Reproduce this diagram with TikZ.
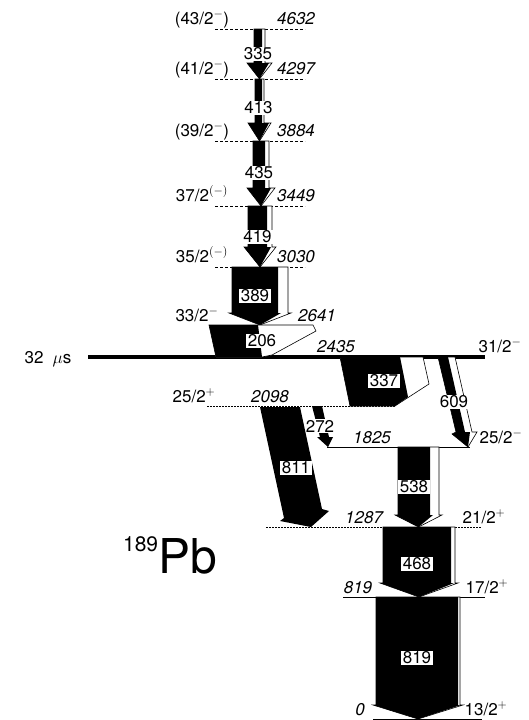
\documentclass[tikz,border=0pt]{standalone}
\usepackage{fontspec}
\setmainfont{TeX Gyre Heros}
\usetikzlibrary{calc}

\begin{document}
\begin{tikzpicture}[x=1pt, y=-1pt, font=\fontsize{17}{17}\selectfont,
  level/.style={line width=0.8pt},
  lvldash/.style={level, dash pattern=on 3pt off 2pt},
  lvldot/.style={level, dash pattern=on 1.5pt off 1.5pt},
  glab/.style={fill=white, inner xsep=2pt, inner ysep=1pt},
  elab/.style={anchor=base, font=\fontsize{17}{17}\selectfont\itshape},
  jlab/.style={anchor=base},
  outl/.style={line width=0.6pt, fill=white}]
  \useasboundingbox (0,0) rectangle (528,720);

  % upper cascade levels
  \foreach \y/\E/\J in {29/4632/{(43/2$^-$)}, 79/4297/{(41/2$^-$)},
      141/3884/{(39/2$^-$)}, 206/3449/{37/2$^{(-)}$}, 267/3030/{35/2$^{(-)}$}} {
    \draw[lvldash] (215,\y) -- (305,\y);
    \node[jlab] (J\E) at (202,\y-5) {\J};
    \node[elab] (E\E) at (296,\y-5) {\E};
  }

  % lower levels
  \draw[lvldash] (210,325) -- (313,325);
  \draw[line width=3.5pt] (88,357) -- (485,357);
  \draw[lvldot] (207,406) -- (395,406);
  \draw[level] (327,447) -- (470,447);
  \draw[lvldot] (266,527) -- (482,527);
  \draw[level] (343,597) -- (485,597);
  \draw[level] (373,719) -- (482,719);

  % vertical gamma bands: left / black edge / right / top / bottom / head / overhang
  \foreach \xl/\xb/\xr/\yt/\yb/\hl/\ov/\E/\ly in {
      254/262/265/29/79/16/7/335/54, 255/262/264/79/141/18/7/413/108,
      253/265/269/141/206/18/6/435/173, 248/267/272/206/267/20/4/419/237,
      232/278/288/267/325/12/3/389/296, 398/430/439/447/527/12/3/538/487,
      383/451/455/527/597/14/3/468/564, 376/458/460/597/719/14/3/819/658} {
    \draw[outl] (\xl,\yt) -- (\xr,\yt) -- (\xr,\yb-\hl) -- (\xr+\ov,\yb-\hl)
      -- ({(\xl+\xr)/2},\yb) -- (\xl-\ov,\yb-\hl) -- (\xl,\yb-\hl) -- cycle;
    \fill (\xl,\yt) -- (\xb,\yt) -- (\xb,\yb-\hl) -- (\xb+\ov,\yb-\hl)
      -- ({(\xl+\xr)/2},\yb) -- (\xl-\ov,\yb-\hl) -- (\xl,\yb-\hl) -- cycle;
    \node[glab] (g\E) at ({(\xl+\xb)/2},\ly) {\E};
  }

  % 206
  \draw[outl] (209,325) -- (313,325) -- (316,331) -- (272,355) -- (262,357)
    -- (216,357) -- cycle;
  \fill (209,325) -- (258,325) -- (262,357) -- (216,357) -- cycle;
  \node[glab] (g206) at (262,341) {206};
  % 337
  \draw[outl] (340,357) -- (423,357) -- (429,384) -- (395,406) -- (350,406) -- cycle;
  \fill (340,357) -- (400,357) -- (408,397) -- (395,406) -- (350,406) -- cycle;
  \node[glab] (g337) at (384,381) {337};
  % 609
  \draw[outl] (438,357) -- (455,357) -- (472,432) -- (477,432) -- (468,447)
    -- (452,434) -- (456,432) -- cycle;
  \fill (438,357) -- (448,357) -- (465,432) -- (470,432) -- (468,447)
    -- (452,434) -- (456,432) -- cycle;
  \node[glab] (g609) at (454,402) {609};
  % 272
  \fill (312,406) -- (322,406) -- (329,437) -- (333,437) -- (328,447)
    -- (317,437) -- (320,437) -- cycle;
  \node[glab] (g272) at (320,426) {272};
  % 811
  \fill (260,407) -- (300,407) -- (322,509) -- (329,511) -- (311,527)
    -- (280,521) -- (284,518) -- cycle;
  \node[glab] (g811) at (296,468) {811};

  % level labels
  \node[jlab] (J2641) at (197,321) {33/2$^-$};
  \node[elab] (E2641) at (317,321) {2641};
  \node[anchor=base] (tau) at (48,363) {32\hspace{9pt}$\mu$s};
  \node[elab] (E2435) at (336,352) {2435};
  \node[jlab] (J2435) at (500,352) {31/2$^-$};
  \node[jlab] (J2098) at (194,402) {25/2$^+$};
  \node[elab] (E2098) at (270,402) {2098};
  \node[elab] (E1825) at (372,443) {1825};
  \node[jlab] (J1825) at (501,443) {25/2$^-$};
  \node[elab] (E1287) at (364,523) {1287};
  \node[jlab] (J1287) at (484,523) {21/2$^+$};
  \node[elab] (E819) at (358,593) {819};
  \node[jlab] (J819) at (487,593) {17/2$^+$};
  \node[elab] (E0) at (360,715) {0};
  \node[jlab] (J0) at (486,715) {13/2$^+$};

  \node (nuc) at (170,555) {\fontsize{48}{48}\selectfont\raisebox{22pt}{\fontsize{21}{21}\selectfont 189}Pb};
\end{tikzpicture}
\end{document}
